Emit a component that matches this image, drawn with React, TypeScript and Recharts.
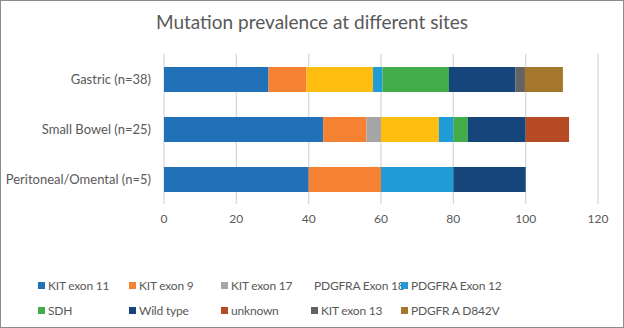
import { BarChart, Bar, XAxis, YAxis, CartesianGrid } from "recharts";

const sites = ["Gastric (n=38)", "Small Bowel (n=25)", "Peritoneal/Omental (n=5)"];

const seriesNames = [
  "KIT exon 11",
  "KIT exon 9",
  "KIT exon 17",
  "PDGFRA Exon 18",
  "PDGFRA Exon 12",
  "SDH",
  "Wild type",
  "unknown",
  "KIT exon 13",
  "PDGFR A D842V",
];

const seriesColors = [
  "#2171B8",
  "#F58233",
  "#A5A5A5",
  "#FFBD12",
  "#1F9BD6",
  "#42AD48",
  "#15457B",
  "#B54A24",
  "#636363",
  "#A5772B",
];

// percent of cases per site, in series order
const kitExon11 = [28.9, 44, 40];
const kitExon9 = [10.5, 12, 20];
const kitExon17 = [0, 4, 0];
const pdgfraExon18 = [18.4, 16, 0];
const pdgfraExon12 = [2.6, 4, 20];
const sdh = [18.4, 4, 0];
const wildType = [18.4, 16, 20];
const unknown = [0, 12, 0];
const kitExon13 = [2.6, 0, 0];
const pdgfraD842V = [10.5, 0, 0];

const xTicks = [0, 20, 40, 60, 80, 100, 120];

const seriesValues = [
  kitExon11,
  kitExon9,
  kitExon17,
  pdgfraExon18,
  pdgfraExon12,
  sdh,
  wildType,
  unknown,
  kitExon13,
  pdgfraD842V,
];

const data = sites.map((site, i) => {
  const row: Record<string, string | number> = { site };
  seriesNames.forEach((name, s) => {
    row[name] = seriesValues[s][i];
  });
  return row;
});

const font = "Lato, 'Open Sans', sans-serif";
const textColor = "#595959";

function SiteTick(props: any) {
  const { x, y, payload } = props;
  return (
    <text x={x} y={y} dy={4.5} textAnchor="end" fill={textColor} fontSize={13} fontFamily={font}>
      {payload.value}
    </text>
  );
}

function Legend() {
  return (
    <div
      style={{
        position: "absolute",
        left: 37,
        top: 275,
        width: 580,
        display: "grid",
        gridTemplateColumns: "91px 92px 90px 90px 120px",
        rowGap: 7,
        fontFamily: font,
        fontSize: 12,
        letterSpacing: -0.2,
        color: textColor,
      }}
    >
      {seriesNames.map((name, i) => (
        <div key={name} style={{ display: "flex", alignItems: "center", height: 18, whiteSpace: "nowrap" }}>
          <span style={{ width: 7, height: 7, background: seriesColors[i], marginRight: 3, display: "inline-block" }} />
          {name}
        </div>
      ))}
    </div>
  );
}

export default function App() {
  return (
    <div
      style={{
        position: "absolute",
        left: 0,
        top: 0,
        width: 624,
        height: 328,
        boxSizing: "border-box",
        border: "1px solid #8C8C8C",
        background: "#fff",
        overflow: "hidden",
      }}
    >
      <div
        style={{
          position: "absolute",
          top: 9,
          left: 0,
          width: 622,
          textAlign: "center",
          fontFamily: font,
          fontSize: 19,
          color: textColor,
        }}
      >
        Mutation prevalence at different sites
      </div>
      <div style={{ position: "absolute", left: -1, top: -1 }}>
        <BarChart
          width={624}
          height={328}
          data={data}
          layout="vertical"
          barSize={25}
          margin={{ top: 54, right: 26, left: 0, bottom: 94 }}
        >
          <CartesianGrid horizontal={false} vertical={true} stroke="#D9D9D9" strokeWidth={1.3} />
          <XAxis
            type="number"
            domain={[0, 120]}
            ticks={xTicks}
            axisLine={false}
            tickLine={false}
            tickMargin={4}
            height={30}
            tick={{ fill: textColor, fontSize: 12, fontFamily: font }}
          />
          <YAxis
            type="category"
            dataKey="site"
            width={164}
            axisLine={false}
            tickLine={false}
            tickMargin={7}
            tick={<SiteTick />}
          />
          {seriesNames.map((name, i) => (
            <Bar
              key={name}
              dataKey={name}
              stackId="a"
              fill={seriesColors[i]}
              isAnimationActive={false}
            />
          ))}
        </BarChart>
      </div>
      <Legend />
    </div>
  );
}
